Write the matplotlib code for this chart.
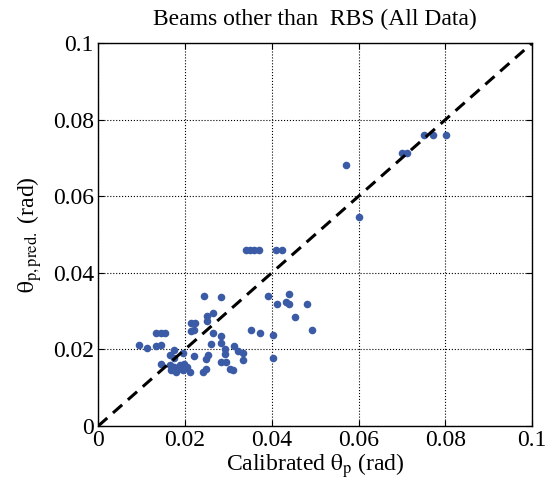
"""
Predicted vs calibrated theta_p for beams other than RBS.
"""

import matplotlib
matplotlib.use("Agg")
import matplotlib.pyplot as plt

# calibrated theta_p (rad)
theta_cal = [
    0.0572, 0.0701, 0.0712, 0.0751, 0.0772, 0.0801, 0.0601,
    0.0340, 0.0350, 0.0360, 0.0370, 0.0410, 0.0423,
    0.0244, 0.0284, 0.0391, 0.0441, 0.0412, 0.0432, 0.0441, 0.0482, 0.0453,
    0.0264, 0.0252, 0.0252, 0.0215, 0.0224, 0.0222, 0.0214,
    0.0133, 0.0145, 0.0155,
    0.0264, 0.0284, 0.0353, 0.0372, 0.0402, 0.0493,
    0.0094, 0.0113, 0.0133, 0.0145,
    0.0261, 0.0284, 0.0314, 0.0323, 0.0333, 0.0333, 0.0292, 0.0292, 0.0294, 0.0284,
    0.0174, 0.0195, 0.0165, 0.0176, 0.0222, 0.0253, 0.0249, 0.0402,
    0.0146, 0.0165, 0.0176, 0.0188, 0.0199, 0.0195, 0.0211, 0.0180, 0.0169,
    0.0241, 0.0249, 0.0303, 0.0310, 0.0205, 0.0185,
]

# predicted theta_p (rad)
theta_pred = [
    0.0683, 0.0712, 0.0712, 0.0759, 0.0759, 0.0759, 0.0547,
    0.0460, 0.0460, 0.0460, 0.0460, 0.0460, 0.0460,
    0.0340, 0.0337, 0.0339, 0.0344, 0.0319, 0.0325, 0.0320, 0.0320, 0.0284,
    0.0296, 0.0287, 0.0275, 0.0270, 0.0270, 0.0252, 0.0247,
    0.0244, 0.0242, 0.0244,
    0.0243, 0.0235, 0.0250, 0.0243, 0.0239, 0.0250,
    0.0213, 0.0205, 0.0210, 0.0213,
    0.0214, 0.0217, 0.0209, 0.0196, 0.0190, 0.0172, 0.0200, 0.0187, 0.0167, 0.0167,
    0.0198, 0.0190, 0.0185, 0.0177, 0.0182, 0.0185, 0.0176, 0.0178,
    0.0163, 0.0159, 0.0155, 0.0159, 0.0163, 0.0146, 0.0141, 0.0141, 0.0146,
    0.0141, 0.0150, 0.0150, 0.0146, 0.0155, 0.0150,
]

ticks = [0, 0.02, 0.04, 0.06, 0.08, 0.1]
tick_labels = ["0", "0.02", "0.04", "0.06", "0.08", "0.1"]

plt.rcParams["font.family"] = ["Liberation Serif", "DejaVu Serif"]
plt.rcParams["mathtext.fontset"] = "stix"

fig = plt.figure(figsize=(5.48, 4.96), dpi=100)
ax = fig.add_axes([0.179, 0.141, 0.792, 0.772])

ax.scatter(theta_cal, theta_pred, s=30, color="#3B5BA7", zorder=3,
           linewidths=0)
ax.plot([0, 0.1], [0, 0.1], color="black", linestyle=(0, (4, 2.5)),
        linewidth=2.2, zorder=4)

ax.set_xlim(0, 0.1)
ax.set_ylim(0, 0.1)
ax.set_xticks(ticks)
ax.set_yticks(ticks)
ax.set_xticklabels(tick_labels)
ax.set_yticklabels(tick_labels)
ax.tick_params(direction="in", top=True, right=True, length=4,
               labelsize=17, pad=3)
ax.grid(True, linestyle=":", color="black", linewidth=0.8)

for sp in ax.spines.values():
    sp.set_linewidth(1.0)

ax.set_title("Beams other than  RBS (All Data)", fontsize=17, pad=13)
ax.set_xlabel(r"Calibrated $\mathrm{\theta}_{\mathrm{p}}$ (rad)", fontsize=17,
              labelpad=0)
ax.set_ylabel(r"$\mathrm{\theta}_{\mathrm{p,pred.}}$ (rad)", fontsize=17,
              labelpad=6)

plt.savefig("out.png", dpi=100)
